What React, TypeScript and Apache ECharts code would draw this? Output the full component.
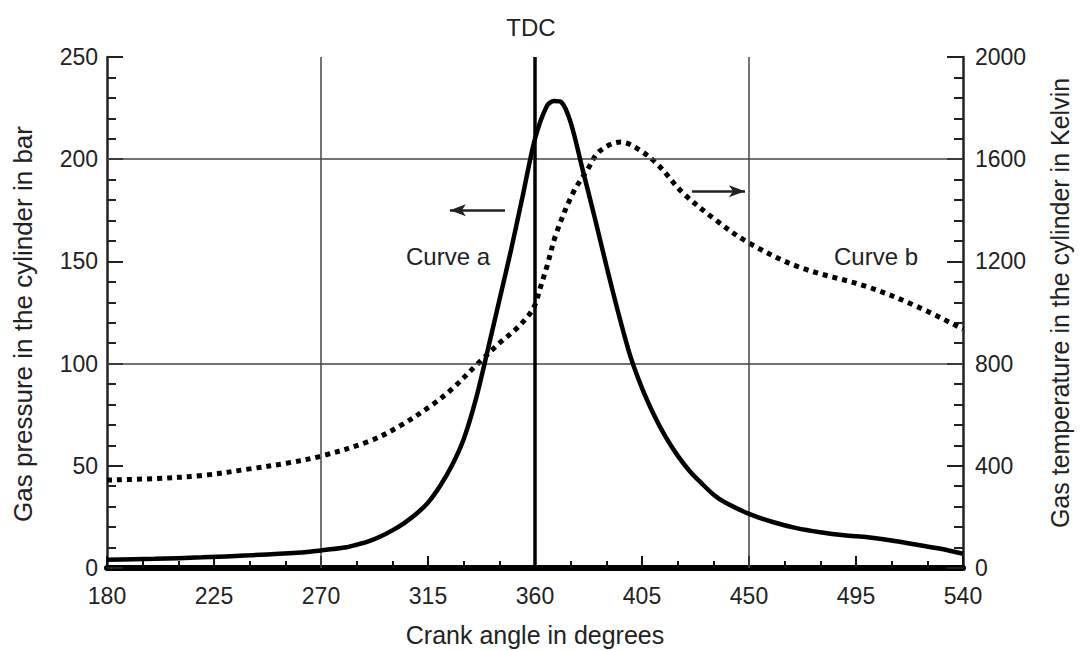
import React, { useEffect, useRef } from "react";
import * as echarts from "echarts";

const xTicks = [180, 225, 270, 315, 360, 405, 450, 495, 540];
const pressureAngles = [180, 200, 220, 240, 260, 270, 280, 285, 290, 295, 300, 305, 310, 315, 320, 325, 330, 335, 340, 345, 350, 355, 360, 365, 368, 371, 375, 380, 385, 390, 395, 400, 405, 410, 415, 420, 425, 430, 435, 440, 450, 460, 470, 480, 490, 500, 510, 520, 530, 540];
const pressureBar = [4, 4.5, 5.2, 6.2, 7.5, 8.6, 10, 11.4, 13, 15.4, 18.4, 22, 26.4, 32, 40, 50, 63, 82, 106, 131, 156, 183, 210, 226, 228.5, 228, 218, 195, 172, 148, 125, 104, 88, 75, 64, 55, 47.5, 41.5, 36, 32, 26.5, 22.5, 19.5, 17.5, 16, 15, 13.5, 11.5, 9.5, 7];
const tempAngles = [180, 200, 220, 240, 256, 270, 290, 303, 317, 325, 336, 345, 352, 357, 360, 362, 365, 369, 376, 382, 387, 396, 404, 412, 422, 436, 450, 471, 500, 521, 540];
const tempKelvin = [344, 350, 362, 388, 411, 438, 495, 555, 640, 700, 800, 880, 935, 985, 1030, 1090, 1180, 1311, 1468, 1558, 1630, 1667, 1636, 1575, 1470, 1362, 1272, 1178, 1100, 1022, 935];
const pressureGridLines = [100, 200];
const angleGridLines = [270, 450];
const tdcAngle = 360;

const textColor = "#222";
const font = "'Liberation Sans', Arial, sans-serif";

export default function App() {
  const ref = useRef<HTMLDivElement>(null);
  useEffect(() => {
    document.body.style.margin = "0";
    const chart = echarts.init(ref.current!, null, { renderer: "svg" });
    const pData = pressureAngles.map((a, i) => [a, pressureBar[i]]);
    const tData = tempAngles.map((a, i) => [a, tempKelvin[i]]);
    chart.setOption({
      animation: false,
      backgroundColor: "#ffffff",
      grid: { left: 107, right: 118, top: 57, bottom: 82, containLabel: false },
      xAxis: {
        type: "value",
        min: 180,
        max: 540,
        interval: 45,
        axisLine: { show: true, onZero: false, lineStyle: { color: "#000", width: 6 } },
        axisTick: { show: true, inside: true, length: 12, lineStyle: { color: "#111", width: 2 } },
        minorTick: { show: true, splitNumber: 3, length: 7, lineStyle: { color: "#111", width: 2 } },
        splitLine: { show: false },
        axisLabel: { color: textColor, fontSize: 23, fontFamily: font, margin: 16, formatter: (v: number) => String(v) },
      },
      yAxis: [
        {
          type: "value",
          min: 0,
          max: 250,
          interval: 50,
          position: "left",
          axisLine: { show: true, lineStyle: { color: "#222", width: 2.5 } },
          axisTick: { show: true, inside: true, length: 16, lineStyle: { color: "#222", width: 2 } },
          minorTick: { show: true, splitNumber: 5, length: 9, lineStyle: { color: "#222", width: 2 } },
          splitLine: { show: false },
          axisLabel: { color: textColor, fontSize: 23, fontFamily: font, margin: 9, formatter: (v: number) => String(v) },
        },
        {
          type: "value",
          min: 0,
          max: 2000,
          interval: 400,
          position: "right",
          axisLine: { show: true, lineStyle: { color: "#222", width: 2.5 } },
          axisTick: { show: true, inside: true, length: 16, lineStyle: { color: "#222", width: 2 } },
          minorTick: { show: true, splitNumber: 5, length: 9, lineStyle: { color: "#222", width: 2 } },
          splitLine: { show: false },
          axisLabel: { color: textColor, fontSize: 23, fontFamily: font, margin: 12, formatter: (v: number) => String(v) },
        },
      ],
      series: [
        {
          name: "Curve a",
          type: "line",
          yAxisIndex: 0,
          data: pData,
          smooth: 0.3,
          showSymbol: false,
          lineStyle: { color: "#000", width: 4.5 },
          z: 5,
          markLine: {
            silent: true,
            symbol: ["none", "none"],
            label: { show: false },
            lineStyle: { color: "#444", width: 1.5, type: "solid" },
            data: [
              ...pressureGridLines.map((v) => ({ yAxis: v })),
              ...angleGridLines.map((v) => ({ xAxis: v })),
              { xAxis: tdcAngle, lineStyle: { color: "#000", width: 3.5, type: "solid" } },
              [
                { coord: [347.4, 175], symbol: "none", lineStyle: { color: "#222", width: 2.5, type: "solid" } },
                { coord: [324.2, 175], symbol: "arrow", symbolSize: [9, 16] },
              ],
            ],
          },
        },
        {
          name: "Curve b",
          type: "line",
          yAxisIndex: 1,
          data: tData,
          smooth: 0.35,
          showSymbol: false,
          lineStyle: { color: "#000", width: 5, type: [5, 5], cap: "butt" },
          z: 4,
          markLine: {
            silent: true,
            symbol: ["none", "arrow"],
            symbolSize: [9, 16],
            label: { show: false },
            lineStyle: { color: "#222", width: 2.5, type: "solid" },
            data: [[{ coord: [426, 1475] }, { coord: [448.3, 1475] }]],
          },
        },
      ],
      graphic: [
        { type: "text", x: 531, y: 27, style: { text: "TDC", fill: textColor, font: `24px ${font}`, align: "center", verticalAlign: "middle" } },
        { type: "text", x: 448, y: 256, style: { text: "Curve a", fill: textColor, font: `24px ${font}`, align: "center", verticalAlign: "middle" } },
        { type: "text", x: 876, y: 256, style: { text: "Curve b", fill: textColor, font: `24px ${font}`, align: "center", verticalAlign: "middle" } },
        { type: "text", x: 535, y: 635, style: { text: "Crank angle in degrees", fill: textColor, font: `25px ${font}`, align: "center", verticalAlign: "middle" } },
        { type: "text", x: 23, y: 324, rotation: Math.PI / 2, style: { text: "Gas pressure in the cylinder in bar", fill: textColor, font: `26px ${font}`, align: "center", verticalAlign: "middle" } },
        { type: "text", x: 1060, y: 303, rotation: Math.PI / 2, style: { text: "Gas temperature in the cylinder in Kelvin", fill: textColor, font: `25px ${font}`, align: "center", verticalAlign: "middle" } },
      ],
    });
    return () => chart.dispose();
  }, []);
  return <div ref={ref} style={{ width: 1081, height: 650 }} />;
}
